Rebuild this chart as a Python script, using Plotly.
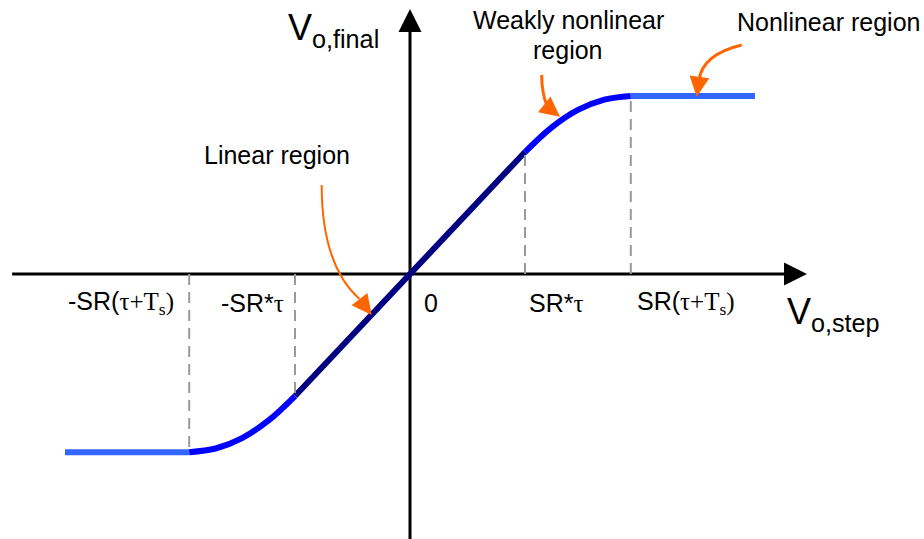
import math
import plotly.graph_objects as go

# Transfer curve V_o,final vs V_o,step (x in units of SR*tau, y normalised so the linear part is y = x)
sat_left_x = [-3.0, -1.92]
sat_left_y = [-1.46, -1.46]
weak_left_x = [-1.92, -1.69, -1.46, -1.23, -1.0]
weak_left_y = [-1.46, -1.43, -1.345, -1.20, -1.0]
linear_x = [-1.0, 0.0, 1.0]
linear_y = [-1.0, 0.0, 1.0]
weak_right_x = [1.0, 1.23, 1.46, 1.69, 1.92]
weak_right_y = [1.0, 1.20, 1.345, 1.43, 1.46]
sat_right_x = [1.92, 3.0]
sat_right_y = [1.46, 1.46]

# Breakpoints marked on the step axis
tick_vals = [-1.92, -1.0, 0.0, 1.0, 1.92]
tick_curve_y = [-1.46, -1.0, 0.0, 1.0, 1.46]
SERIF = "font-family:'Times New Roman','Liberation Serif',serif"
tick_text = [
    f"-SR(<span style=\"{SERIF}\">τ+T<sub>s</sub>)</span>",
    f"-SR*<span style=\"{SERIF}\">τ</span>",
    "0",
    f"SR*<span style=\"{SERIF}\">τ</span>",
    f"SR(<span style=\"{SERIF}\">τ+T<sub>s</sub>)</span>",
]

NAVY = "#000080"
BLUE = "#0000FF"
LIGHT = "#3366FF"
ORANGE = "#FF6600"
GREY = "#999999"
SANS = "Arial, Liberation Sans, sans-serif"

W, H = 924, 539
X_RANGE = [-3.5652, 4.4696]
Y_RANGE = [-2.172, 2.246]
PX_X = W / (X_RANGE[1] - X_RANGE[0])   # pixels per x unit
PX_Y = H / (Y_RANGE[1] - Y_RANGE[0])   # pixels per y unit

fig = go.Figure()

def seg(x, y, color, spline=False):
    fig.add_trace(go.Scatter(
        x=x, y=y, mode="lines",
        line=dict(color=color, width=6, shape="spline" if spline else "linear"),
        hoverinfo="skip",
    ))

seg(sat_left_x, sat_left_y, LIGHT)
seg(weak_left_x, weak_left_y, BLUE, spline=True)
seg(linear_x, linear_y, NAVY)
seg(weak_right_x, weak_right_y, BLUE, spline=True)
seg(sat_right_x, sat_right_y, LIGHT)


def arrowhead(tip, frm, length, half_width, color, layer="above"):
    """Filled triangle pointing at `tip`, aligned with the direction from `frm`."""
    dx = (tip[0] - frm[0]) * PX_X
    dy = (tip[1] - frm[1]) * PX_Y
    n = math.hypot(dx, dy)
    ux, uy = dx / n, dy / n
    bx = tip[0] - length * ux / PX_X
    by = tip[1] - length * uy / PX_Y
    px, py = -uy, ux
    c1 = (bx + half_width * px / PX_X, by + half_width * py / PX_Y)
    c2 = (bx - half_width * px / PX_X, by - half_width * py / PX_Y)
    return dict(type="path", xref="x", yref="y", layer=layer,
                path=f"M {tip[0]},{tip[1]} L {c1[0]},{c1[1]} L {c2[0]},{c2[1]} Z",
                fillcolor=color, line=dict(color=color, width=0))


shapes = []
# Coordinate axes (drawn under the curve) with triangular heads
x_tip = (3.452, 0.0)
y_tip = (0.0, 2.172)
shapes.append(dict(type="line", xref="x", yref="y", x0=-3.46, x1=3.30, y0=0, y1=0,
                   line=dict(color="black", width=3), layer="below"))
shapes.append(dict(type="line", xref="x", yref="y", x0=0, x1=0, y0=-2.3, y1=2.02,
                   line=dict(color="black", width=3), layer="below"))
shapes.append(arrowhead(x_tip, (0.0, 0.0), 23, 11.5, "black", layer="below"))
shapes.append(arrowhead(y_tip, (0.0, 0.0), 23, 11.5, "black", layer="below"))

# Dashed guides from the axis to the region boundaries
for xv, yv in zip(tick_vals, tick_curve_y):
    if xv == 0:
        continue
    shapes.append(dict(type="line", xref="x", yref="y", x0=xv, x1=xv, y0=0, y1=yv,
                       line=dict(color=GREY, width=2, dash="11px,7px"), layer="above"))

# Curved call-out arrows (quadratic Bézier shafts + filled heads)
callouts = [
    # (start, control, end-of-shaft, tip, width)
    ((-0.768, 0.730), (-0.768, 0.074), (-0.440, -0.205), (-0.333, -0.336), 2),
    ((1.145, 1.631), (1.145, 1.480), (1.195, 1.370), (1.304, 1.289), 3),
    ((2.884, 1.877), (2.543, 1.799), (2.513, 1.590), (2.493, 1.453), 3),
]
for p0, c, p2, tip, w in callouts:
    shapes.append(dict(type="path", xref="x", yref="y",
                       path=f"M {p0[0]},{p0[1]} Q {c[0]},{c[1]} {p2[0]},{p2[1]}",
                       line=dict(color=ORANGE, width=w)))
    shapes.append(arrowhead(tip, p2, 20, 10, ORANGE))

annotations = []
# Tick labels beside the guides
tick_side = ["right", "right", "left", "left", "left"]
tick_shift = [-13, -9, 12, 2, 4]
for xv, txt, side, sh in zip(tick_vals, tick_text, tick_side, tick_shift):
    annotations.append(dict(x=xv, y=-0.238, xref="x", yref="y", text=txt, showarrow=False,
                            xanchor=side, yanchor="middle", xshift=sh,
                            font=dict(family=SANS, size=25, color="black")))

# Axis titles
annotations.append(dict(x=-1.075, y=2.0, xref="x", yref="y", xanchor="left", yanchor="middle",
                        text="V<sub>o,final</sub>", showarrow=False,
                        font=dict(family=SANS, size=36, color="black")))
annotations.append(dict(x=3.261, y=-0.33, xref="x", yref="y", xanchor="left", yanchor="middle",
                        text="V<sub>o,step</sub>", showarrow=False,
                        font=dict(family=SANS, size=36, color="black")))

# Region labels
label_font = dict(family=SANS, size=25, color="black")
annotations.append(dict(x=-1.157, y=0.975, xref="x", yref="y", text="Linear region",
                        showarrow=False, font=label_font))
annotations.append(dict(x=1.374, y=2.085, xref="x", yref="y", text="Weakly nonlinear",
                        showarrow=False, font=label_font))
annotations.append(dict(x=1.374, y=1.840, xref="x", yref="y", text="region",
                        showarrow=False, font=label_font))
annotations.append(dict(x=3.635, y=2.066, xref="x", yref="y", text="Nonlinear region",
                        showarrow=False, font=label_font))

fig.update_layout(
    width=W, height=H,
    margin=dict(l=0, r=0, t=0, b=0),
    paper_bgcolor="white", plot_bgcolor="white",
    showlegend=False,
    xaxis=dict(visible=False, range=X_RANGE, fixedrange=True),
    yaxis=dict(visible=False, range=Y_RANGE, fixedrange=True),
    shapes=shapes,
    annotations=annotations,
)

fig.write_html("out.html")
